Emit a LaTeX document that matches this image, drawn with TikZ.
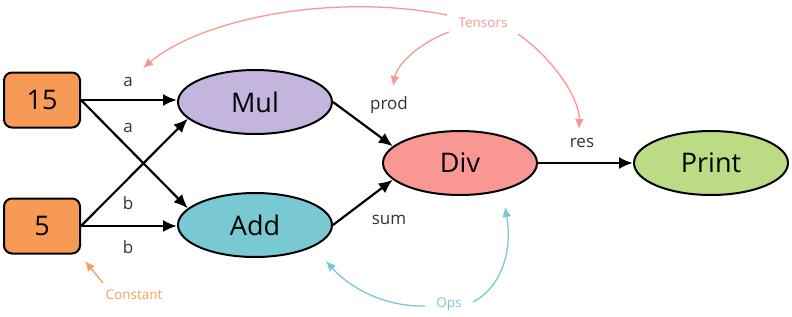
\documentclass[tikz,border=0pt]{standalone}
\usepackage{fontspec}
\setmainfont{Open Sans}
\usetikzlibrary{arrows.meta,shapes.geometric}
\definecolor{corange}{HTML}{F79A55}
\definecolor{cmul}{HTML}{C3B5DD}
\definecolor{cadd}{HTML}{79C9D5}
\definecolor{cdiv}{HTML}{F99793}
\definecolor{cprint}{HTML}{BBDB84}
\definecolor{ctensor}{HTML}{F99793}
\definecolor{cops}{HTML}{79C9D5}
\definecolor{cconst}{HTML}{F7A055}
\definecolor{clabel}{HTML}{333333}
\begin{document}
\begin{tikzpicture}[x=1pt,y=-1pt,
  constbox/.style={draw=black,line width=2pt,rounded corners=8pt,fill=corange,minimum width=76pt,minimum height=55pt,inner sep=0pt,font=\fontsize{27}{30}\selectfont},
  opnode/.style={ellipse,draw=black,line width=2pt,minimum width=154pt,minimum height=64pt,inner sep=0pt,font=\fontsize{27}{30}\selectfont},
  flow/.style={line width=2.2pt,-{Latex[length=14pt,width=12pt]}},
  elabel/.style={text=clabel,font=\fontsize{17}{20}\selectfont},
  note/.style={font=\fontsize{13.5}{16}\selectfont},
  notearrow/.style={line width=1.3pt,-{Latex[length=10pt,width=9pt]}}
]
\useasboundingbox (0,0) rectangle (792,316);
\node[constbox] (n15) at (42,100) {15};
\node[constbox] (n5) at (42,226) {5};
\node[opnode,fill=cmul] (mul) at (255,102) {Mul};
\node[opnode,fill=cadd] (add) at (255,225) {Add};
\node[opnode,fill=cdiv] (div) at (460,163) {Div};
\node[opnode,fill=cprint] (print) at (711,163) {Print};

\draw[flow] (n15.east) -- (n15.east -| mul.west);
\draw[flow] (n15.east) -- (add.166);
\draw[flow] (n5.east) -- (mul.194);
\draw[flow] (n5.east) -- (n5.east -| add.west);
\draw[flow] (mul.east) -- (div.166);
\draw[flow] (add.east) -- (div.194);
\draw[flow] (div.east) -- (print.west);

\node[elabel] (la1) at (128,82) {a};
\node[elabel] (la2) at (128,128) {a};
\node[elabel] (lb1) at (128,203) {b};
\node[elabel] (lb2) at (128,247) {b};
\node[elabel] (lprod) at (389,105) {prod};
\node[elabel] (lsum) at (389,220) {sum};
\node[elabel] (lres) at (582,143) {res};

\node[note,text=ctensor] (tensors) at (483,23) {Tensors};
\node[note,text=cops] (ops) at (449,304) {Ops};
\node[note,text=cconst] (constant) at (134,295) {Constant};

\coordinate (ts1) at (447,15);
\coordinate (ts2) at (449,32);
\coordinate (ts3) at (518,34);
\coordinate (os1) at (425,306);
\coordinate (os2) at (473,302);
\coordinate (cs1) at (103,283);
\coordinate (t1) at (143,68);
\coordinate (t2) at (393,86);
\coordinate (t3) at (579,129);
\coordinate (o1) at (326,261);
\coordinate (o2) at (505,207);
\coordinate (c1) at (85,261);

\draw[notearrow,draw=ctensor] (ts1) .. controls (330,-8) and (200,20) .. (t1);
\draw[notearrow,draw=ctensor] (ts2) .. controls (422,42) and (398,62) .. (t2);
\draw[notearrow,draw=ctensor] (ts3) .. controls (555,60) and (580,100) .. (t3);
\draw[notearrow,draw=cops] (os1) .. controls (385,307) and (350,288) .. (o1);
\draw[notearrow,draw=cops] (os2) .. controls (505,285) and (512,245) .. (o2);
\draw[notearrow,draw=cconst] (cs1) -- (c1);
\end{tikzpicture}
\end{document}
